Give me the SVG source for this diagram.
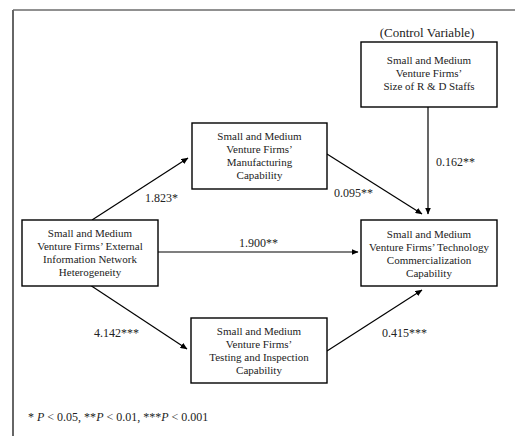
<svg xmlns="http://www.w3.org/2000/svg" width="515" height="436" viewBox="0 0 515 436">
<style>
.box{fill:#fff;stroke:#000;stroke-width:1.4}
.t{font-family:"Liberation Serif","Times New Roman",serif;font-size:11px;fill:#222;text-anchor:middle}
.lbl{font-family:"Liberation Serif","Times New Roman",serif;font-size:12px;fill:#222}
.edge{stroke:#000;stroke-width:1.2;fill:none;marker-end:url(#ah)}
</style>
<defs>
<marker id="ah" markerWidth="7" markerHeight="6" refX="6.5" refY="3" orient="auto" markerUnits="userSpaceOnUse">
<path d="M0,0 L7,3 L0,6 Z" fill="#000"/>
</marker>
</defs>
<rect width="515" height="436" fill="#fff"/>
<line x1="13" y1="10" x2="515" y2="10" stroke="#222" stroke-width="1"/>
<line x1="13" y1="10" x2="13" y2="436" stroke="#666" stroke-width="2"/>
<text class="lbl" x="427" y="37" text-anchor="middle" style="font-size:13px">(Control Variable)</text>
<g id="connectors">
<line class="edge" x1="92" y1="220" x2="188" y2="158"/>
<line class="edge" x1="327" y1="154" x2="422" y2="214"/>
<line class="edge" x1="428" y1="107" x2="428" y2="214"/>
<line class="edge" x1="158" y1="252" x2="358" y2="252"/>
<line class="edge" x1="90" y1="285" x2="187" y2="349"/>
<line class="edge" x1="327" y1="351" x2="422" y2="290"/>
<text class="lbl" x="145" y="202">1.823*</text>
<text class="lbl" x="334" y="197">0.095**</text>
<text class="lbl" x="436" y="166">0.162**</text>
<text class="lbl" x="239" y="247">1.900**</text>
<text class="lbl" x="94" y="337">4.142***</text>
<text class="lbl" x="382" y="337">0.415***</text>
</g>
<g id="size">
<rect class="box" x="361" y="42" width="136" height="65"/>
<text class="t" x="429" y="64">Small and Medium</text>
<text class="t" x="429" y="77">Venture Firms’</text>
<text class="t" x="429" y="90">Size of R &amp; D Staffs</text>
</g>
<g id="manufacturing">
<rect class="box" x="192" y="123" width="135" height="66"/>
<text class="t" x="259.5" y="140">Small and Medium</text>
<text class="t" x="259.5" y="153">Venture Firms’</text>
<text class="t" x="259.5" y="166">Manufacturing</text>
<text class="t" x="259.5" y="179">Capability</text>
</g>
<g id="external">
<rect class="box" x="22" y="220" width="136" height="66"/>
<text class="t" x="90" y="237">Small and Medium</text>
<text class="t" x="90" y="250">Venture Firms’ External</text>
<text class="t" x="90" y="263">Information Network</text>
<text class="t" x="90" y="276">Heterogeneity</text>
</g>
<g id="technology">
<rect class="box" x="361" y="220" width="136" height="66"/>
<text class="t" x="429" y="237.5">Small and Medium</text>
<text class="t" x="429" y="250.5">Venture Firms’ Technology</text>
<text class="t" x="429" y="263.5">Commercialization</text>
<text class="t" x="429" y="276.5">Capability</text>
</g>
<g id="testing">
<rect class="box" x="191" y="318" width="136" height="65"/>
<text class="t" x="259" y="335">Small and Medium</text>
<text class="t" x="259" y="348">Venture Firms’</text>
<text class="t" x="259" y="361">Testing and Inspection</text>
<text class="t" x="259" y="374">Capability</text>
</g>
<text class="lbl" x="28" y="421">* <tspan font-style="italic">P</tspan> &lt; 0.05, **<tspan font-style="italic">P</tspan> &lt; 0.01, ***<tspan font-style="italic">P</tspan> &lt; 0.001</text>
</svg>
